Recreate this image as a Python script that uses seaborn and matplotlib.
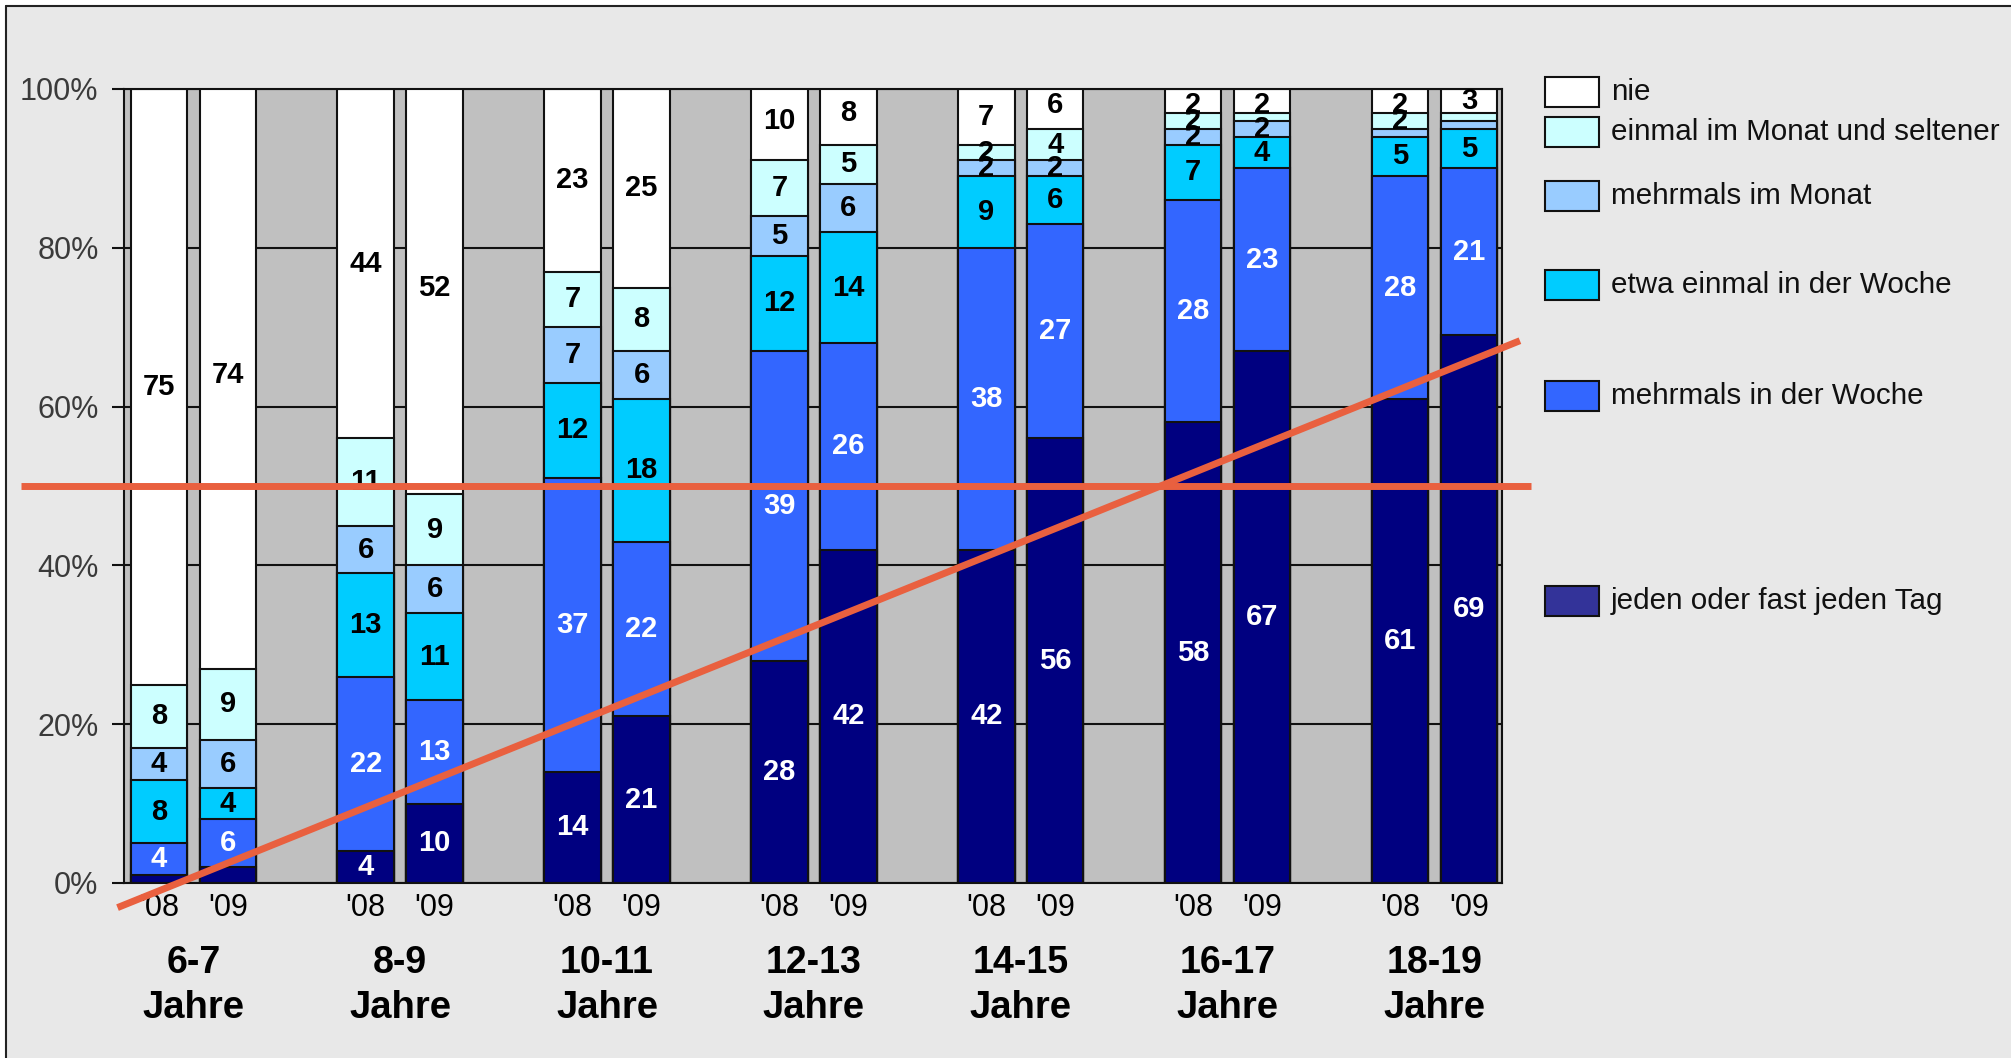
import numpy as np
import pandas as pd
import matplotlib
matplotlib.use("Agg")
import matplotlib.pyplot as plt
import seaborn as sns
from matplotlib.patches import Rectangle
from matplotlib.lines import Line2D

sns.set_style("white")
plt.rcParams['font.family'] = ['Liberation Sans', 'DejaVu Sans']
plt.rcParams['text.color'] = 'black'

# Altersgruppen und Jahre
groups = ["6-7", "8-9", "10-11", "12-13", "14-15", "16-17", "18-19"]
years = ["'08", "'09"]

# Anteile in % (je Balken: 6-7 '08, 6-7 '09, 8-9 '08, ...)
jeden = [1, 2, 4, 10, 14, 21, 28, 42, 42, 56, 58, 67, 61, 69]
woche_mehr = [4, 6, 22, 13, 37, 22, 39, 26, 38, 27, 28, 23, 28, 21]
woche_einmal = [8, 4, 13, 11, 12, 18, 12, 14, 9, 6, 7, 4, 5, 5]
monat_mehr = [4, 6, 6, 6, 7, 6, 5, 6, 2, 2, 2, 2, 1, 1]
monat_einmal = [8, 9, 11, 9, 7, 8, 7, 5, 2, 4, 2, 1, 2, 1]
nie = [75, 74, 44, 52, 23, 25, 10, 8, 7, 6, 2, 2, 2, 3]

categories = ["jeden oder fast jeden Tag", "mehrmals in der Woche",
              "etwa einmal in der Woche", "mehrmals im Monat",
              "einmal im Monat und seltener", "nie"]
colors = ["#000080", "#3366FF", "#00CCFF", "#99CCFF", "#CCFFFF", "#FFFFFF"]
legend_colors = ["#333399", "#3366FF", "#00CCFF", "#99CCFF", "#CCFFFF", "#FFFFFF"]
text_colors = ["white", "white", "black", "black", "black", "black"]
unlabeled = [(0, 1)]  # Segment ohne Beschriftung (Kategorie, Balken)

# Markierungslinien (rot)
half_x = [-2.0, 19.9]
half_y = [50, 50]
trend_x = [-0.6, 19.74]
trend_y = [-3.1, 68.3]

values = [jeden, woche_mehr, woche_einmal, monat_mehr, monat_einmal, nie]
pos = np.array([g * 3 + y for g in range(len(groups)) for y in range(len(years))])
vals = np.array(values, dtype=float)
cum = np.cumsum(vals, axis=0)

fig = plt.figure(figsize=(20.11, 10.58), dpi=100)
fig.patch.set_facecolor("white")
fig.add_artist(Rectangle((6 / 2011, 0), 1, 1 - 6 / 1058, transform=fig.transFigure,
                         facecolor="#E8E8E8", edgecolor="none", zorder=-10))
fig.add_artist(Line2D([6 / 2011, 6 / 2011], [0, 1 - 6 / 1058], color="#222222", lw=1.5,
                      transform=fig.transFigure))
fig.add_artist(Line2D([6 / 2011, 1], [1 - 6 / 1058, 1 - 6 / 1058], color="#222222", lw=1.5,
                      transform=fig.transFigure))

ax = fig.add_axes([124.4 / 2011, 1 - 883 / 1058, (1502 - 124.4) / 2011, (883 - 89) / 1058])
ax.set_facecolor("#C0C0C0")

# gestapelte Balken: von oben nach unten übereinander zeichnen
for k in range(len(categories) - 1, -1, -1):
    h = cum[k] if k < len(categories) - 1 else np.maximum(cum[k], 100)
    df = pd.DataFrame({"pos": pos, "h": h})
    sns.barplot(data=df, x="pos", y="h", native_scale=True, width=0.82,
                color=colors[k], saturation=1, edgecolor="#111111", linewidth=1.5,
                errorbar=None, ax=ax, zorder=2)

# Beschriftungen in den Segmenten
for k in range(len(categories)):
    for i in range(len(pos)):
        v = vals[k, i]
        if v < 2 or (k, i) in unlabeled:
            continue
        ymid = cum[k, i] - v / 2
        ax.text(pos[i], ymid, f"{int(v)}", ha="center", va="center",
                fontsize=21, fontweight="bold", color=text_colors[k], zorder=5)

ax.set_xlim(-0.5, 19.48)
ax.set_ylim(0, 100)
ax.set_yticks([0, 20, 40, 60, 80, 100])
ax.set_yticklabels([f"{t}%" for t in [0, 20, 40, 60, 80, 100]])
ax.set_xticks(pos)
ax.set_xticklabels(years * len(groups))
ax.set_xlabel("")
ax.set_ylabel("")
ax.yaxis.grid(True, color="#111111", linewidth=1.5)
ax.set_axisbelow(True)
for s in ax.spines.values():
    s.set_color("#111111")
    s.set_linewidth(1.5)
ax.tick_params(axis="y", length=8.6, width=1.5, color="#111111", pad=10,
               labelsize=22, labelcolor="#3a3a3a", left=True)
ax.tick_params(axis="x", length=0, pad=7, labelsize=22, labelcolor="black")

# Altersgruppen unter den Jahren
trans = ax.get_xaxis_transform()
for g, name in enumerate(groups):
    xc = g * 3 + 0.5
    ax.text(xc, -0.101, name, transform=trans, ha="center", va="center",
            fontsize=27, fontweight="bold", color="black", clip_on=False)
    ax.text(xc, -0.157, "Jahre", transform=trans, ha="center", va="center",
            fontsize=27.5, fontweight="bold", color="black", clip_on=False)

# rote Linien
ax.plot(half_x, half_y, color="#E9603F", lw=5, zorder=10, clip_on=False,
        solid_capstyle="butt")
ax.plot(trend_x, trend_y, color="#E9603F", lw=5, zorder=10, clip_on=False,
        solid_capstyle="butt")

# Legende (unregelmäßige Abstände wie im Original)
leg_y = [92, 132, 196, 285, 396, 601]
for k, yc in zip(range(len(categories) - 1, -1, -1), leg_y):
    fig.add_artist(Rectangle((1545 / 2011, 1 - (yc + 15) / 1058), 54 / 2011, 30 / 1058,
                             transform=fig.transFigure, facecolor=legend_colors[k],
                             edgecolor="#111111", lw=1.5))
    fig.text(1611 / 2011, 1 - yc / 1058, categories[k], ha="left", va="center",
             fontsize=21.3, color="#111111")

fig.savefig("out.png", dpi=100)
